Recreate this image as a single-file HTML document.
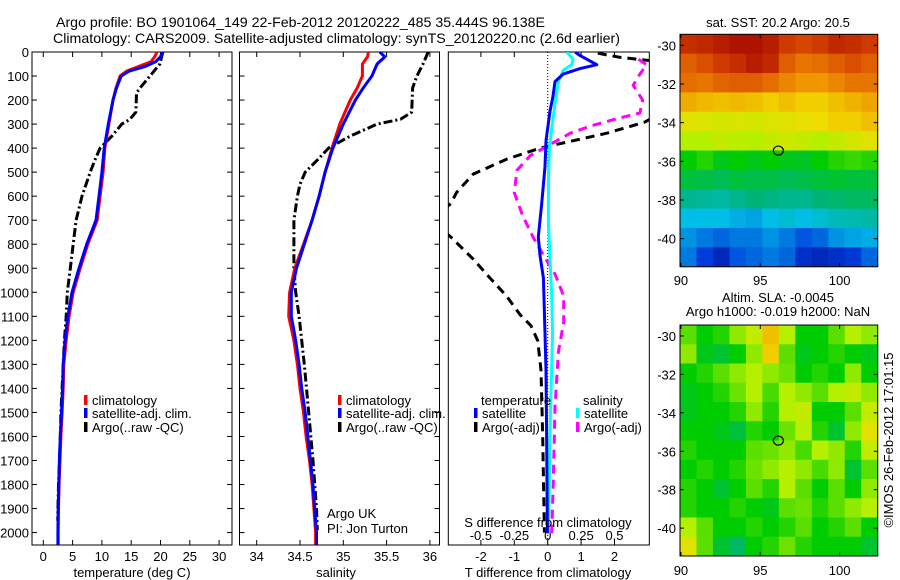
<!DOCTYPE html>
<html><head><meta charset="utf-8"><style>
html,body{margin:0;padding:0;background:#fff}
svg{display:block}
text{font-family:"Liberation Sans",sans-serif;fill:#000}
</style></head><body>
<svg id="fig" width="900" height="580" viewBox="0 0 900 580" xmlns="http://www.w3.org/2000/svg">
<rect width="900" height="580" fill="#fff"/>
<text x="56" y="27" font-size="14" textLength="489" lengthAdjust="spacingAndGlyphs">Argo profile: BO 1901064_149 22-Feb-2012 20120222_485 35.444S 96.138E</text>
<text x="53" y="43" font-size="14" textLength="567" lengthAdjust="spacingAndGlyphs">Climatology: CARS2009. Satellite-adjusted climatology: synTS_20120220.nc (2.6d earlier)</text>
<g id="g1"></g>
<g id="g2"></g>
<g id="g3"></g>
<g id="g4"></g>
<g id="g5"></g>
<text transform="translate(893,440) rotate(-90)" font-size="13" text-anchor="middle">©IMOS 26-Feb-2012 17:01:15</text>
</svg>
<script>
// ---- data ----
const tDepth=[0,20,40,60,80,100,150,200,300,400,500,600,700,800,900,1000,1100,1200,1300,1400,1500,1600,1700,1800,1900,2000,2050];
const tClim=[19.4,19.0,18.4,16.3,14.2,13.1,12.4,11.9,11.2,10.5,10.2,9.7,9.2,7.6,6.3,5.1,4.4,3.9,3.5,3.4,3.2,3.0,2.85,2.7,2.6,2.55,2.55];
const tSat=[20.3,20.0,19.2,17.4,14.6,13.3,12.5,11.9,11.1,10.4,10.0,9.5,9.0,7.4,6.1,4.9,4.2,3.7,3.4,3.3,3.1,2.9,2.75,2.65,2.55,2.5,2.5];
const aTDepth=[0,50,100,150,170,250,280,300,350,400,450,500,600,700,800,900,1000,1100,1200,1300,1400,1500,1600,1700,1800,1900,1950];
const aTemp=[20.4,19.9,18.2,16.5,15.9,15.8,14.8,13.4,11.7,9.7,8.8,8.0,6.6,5.6,5.1,4.6,4.1,3.9,3.6,3.4,3.2,3.0,2.9,2.75,2.6,2.5,2.45];
const sDepth=[0,20,50,100,150,200,300,400,500,600,700,800,900,1000,1100,1200,1300,1400,1500,1600,1700,1800,1900,2000,2050];
const sClim=[35.29,35.28,35.22,35.22,35.16,35.08,34.96,34.87,34.79,34.72,34.64,34.54,34.44,34.38,34.37,34.43,34.47,34.5,34.54,34.57,34.61,34.64,34.66,34.68,34.68];
const sSat=[35.42,35.48,35.39,35.33,35.23,35.14,35.0,34.88,34.79,34.72,34.64,34.55,34.46,34.4,34.4,34.45,34.49,34.52,34.56,34.59,34.62,34.65,34.67,34.69,34.69];
const aSDepth=[0,50,100,150,250,280,300,350,400,450,500,550,600,700,800,900,1000,1100,1200,1300,1500,1700,1900,1990];
const aSal=[35.98,35.92,35.85,35.8,35.79,35.66,35.39,35.08,34.83,34.7,34.56,34.5,34.47,34.43,34.43,34.43,34.45,34.49,34.52,34.55,34.6,34.65,34.69,34.7];
const dTDepth=[0,15,53,69,92,123,184,246,369,477,631,770,847,940,1170,1324,1632,2003];
const dTSat=[0.82,0.97,1.47,0.97,0.46,0.22,0.16,0.07,-0.05,-0.08,-0.18,-0.28,-0.23,-0.13,-0.08,-0.05,-0.03,-0.01];
const dTADepth=[5,22,38,100,200,292,338,369,400,446,508,585,631,700,770,862,940,1016,1093,1139,1201,1324,1600,2000];
const dTArgo=[1.5,2.16,3.2,4.0,4.1,2.9,1.77,0.77,-0.23,-1.23,-2.23,-2.73,-2.9,-3.5,-2.9,-2.23,-1.73,-1.23,-0.83,-0.5,-0.3,-0.2,-0.15,-0.1];
const dSDepth=[0,30,53,76,123,215,292,400,554,708,862,1016,1170,1478,1786,2003];
const dSSat=[0.142,0.19,0.18,0.117,0.08,0.055,0.037,0.012,0.005,0.005,0.017,0.03,0.037,0.022,0.012,0.005];
const dSADepth=[30,53,92,138,200,254,277,308,338,385,431,492,585,677,770,847,924,1016,1124,1248,1478,1786,2003];
const dSArgo=[0.68,0.74,0.69,0.64,0.71,0.69,0.52,0.32,0.17,0.017,-0.13,-0.23,-0.25,-0.19,-0.11,-0.03,0.055,0.12,0.12,0.08,0.055,0.042,0.03];
const sstGrid=[
[0.92,0.93,0.95,0.97,0.97,0.95,0.9,0.88,0.9,0.93,0.92,0.9],
[0.85,0.87,0.9,0.92,0.95,0.93,0.85,0.82,0.83,0.85,0.87,0.85],
[0.83,0.82,0.84,0.85,0.85,0.83,0.8,0.78,0.78,0.8,0.82,0.82],
[0.75,0.73,0.72,0.73,0.72,0.7,0.72,0.7,0.7,0.72,0.74,0.76],
[0.66,0.65,0.64,0.65,0.64,0.65,0.66,0.67,0.68,0.7,0.7,0.72],
[0.6,0.6,0.62,0.61,0.6,0.62,0.63,0.62,0.6,0.62,0.64,0.66],
[0.5,0.52,0.48,0.5,0.48,0.5,0.48,0.47,0.5,0.52,0.53,0.52],
[0.45,0.44,0.43,0.45,0.44,0.44,0.43,0.44,0.45,0.46,0.45,0.45],
[0.38,0.37,0.36,0.38,0.4,0.39,0.38,0.38,0.4,0.41,0.42,0.42],
[0.3,0.3,0.3,0.28,0.27,0.3,0.32,0.3,0.32,0.34,0.35,0.36],
[0.25,0.22,0.2,0.22,0.22,0.25,0.22,0.18,0.2,0.25,0.27,0.28],
[0.22,0.15,0.1,0.18,0.2,0.22,0.2,0.12,0.1,0.12,0.14,0.2]];
const slaGrid=[
[0.55,0.5,0.52,0.58,0.62,0.72,0.6,0.5,0.5,0.55,0.6,0.58],
[0.58,0.48,0.46,0.5,0.58,0.7,0.55,0.48,0.5,0.52,0.5,0.48],
[0.5,0.52,0.55,0.58,0.6,0.58,0.56,0.5,0.52,0.5,0.58,0.5],
[0.48,0.5,0.52,0.56,0.6,0.54,0.6,0.58,0.55,0.6,0.62,0.58],
[0.48,0.5,0.5,0.52,0.58,0.52,0.6,0.62,0.5,0.5,0.55,0.62],
[0.5,0.5,0.48,0.45,0.52,0.5,0.56,0.6,0.52,0.46,0.58,0.66],
[0.52,0.5,0.5,0.5,0.55,0.56,0.58,0.54,0.6,0.58,0.52,0.62],
[0.5,0.52,0.5,0.52,0.56,0.58,0.6,0.58,0.54,0.58,0.46,0.55],
[0.52,0.5,0.46,0.5,0.55,0.52,0.6,0.55,0.5,0.55,0.5,0.58],
[0.52,0.5,0.5,0.52,0.5,0.48,0.55,0.56,0.52,0.55,0.58,0.6],
[0.6,0.55,0.5,0.5,0.52,0.5,0.52,0.55,0.5,0.52,0.55,0.5],
[0.66,0.55,0.46,0.42,0.5,0.52,0.56,0.52,0.5,0.5,0.5,0.46]];
const depthTicks=[0,100,200,300,400,500,600,700,800,900,1000,1100,1200,1300,1400,1500,1600,1700,1800,1900,2000];
const tempTicks=[0,5,10,15,20,25,30];
const salTicks=[34,34.5,35,35.5,36];
const dTTicks=[-2,-1,0,1,2];
const dSTicks=[-0.5,-0.25,0,0.25,0.5];
const dSTickLabels=["-0.5","-0.25","0","0.25","0.5"];
const latTicks=[-30,-32,-34,-36,-38,-40];
const lonTicks=[90,95,100];
const argoLon=96.138, argoLat=-35.444;

// ---- helpers ----
const NS="http://www.w3.org/2000/svg";
function mk(parent,tag,attrs,txt){const e=document.createElementNS(NS,tag);for(const k in attrs)e.setAttribute(k,attrs[k]);if(txt!==undefined)e.textContent=txt;parent.appendChild(e);return e;}
const PT=52,PB=545;
const yD=d=>PT+d*0.2403;
function frame(g,x0,x1,y0,y1){const r=mk(g,'rect',{x:x0,y:y0,width:x1-x0,height:y1-y0,fill:'none',stroke:'#000','stroke-width':1});}
function line(g,xs,ys,fx,fy,color,w,dash,name,clip){
  const pts=xs.map((v,i)=>fx(v).toFixed(1)+','+fy(ys[i]).toFixed(1)).join(' ');
  const a={points:pts,fill:'none',stroke:color,'stroke-width':w,'stroke-linejoin':'round'};
  if(dash)a['stroke-dasharray']=dash; if(clip)a['clip-path']=clip;
  const p=mk(g,'polyline',a);
  
  
}
function depthAxis(g,x0,x1,labels){
  depthTicks.forEach(d=>{const y=yD(d);
    mk(g,'line',{x1:x0,y1:y,x2:x0+5,y2:y,stroke:'#000'});
    mk(g,'line',{x1:x1,y1:y,x2:x1-5,y2:y,stroke:'#000'});
    if(labels){const t=mk(g,'text',{x:x0-3,y:y+5,'font-size':13,'text-anchor':'end'},String(d));
      }
  });
}
function xAxis(g,ticks,labs,fx,labY,top,bot,tickTop){
  ticks.forEach((v,i)=>{const x=fx(v);
    mk(g,'line',{x1:x,y1:bot,x2:x,y2:bot-5,stroke:'#000'});
    if(tickTop!==false)mk(g,'line',{x1:x,y1:top,x2:x,y2:top+5,stroke:'#000'});
    const t=mk(g,'text',{x:x,y:labY,'font-size':13,'text-anchor':'middle'},labs[i]);
    
  });
}
function legendItem(g,x,y,color,label,name){
  const r=mk(g,'rect',{x:x,y:y-10,width:3.5,height:10,fill:color});
  
  const t=mk(g,'text',{x:x+8,y:y,'font-size':13},label);
  
}
function cmap(v){
  const st=[[0,0,0,120],[0.15,0,60,220],[0.3,0,190,230],[0.4,0,180,120],[0.5,0,205,0],[0.6,180,240,0],[0.68,240,220,0],[0.78,240,150,0],[0.88,215,70,0],[1,160,0,0]];
  v=Math.max(0,Math.min(1,v));
  for(let i=1;i<st.length;i++){if(v<=st[i][0]){const a=st[i-1],b=st[i],f=(v-a[0])/(b[0]-a[0]);
    return 'rgb('+[1,2,3].map(k=>Math.round(a[k]+(b[k]-a[k])*f)).join(',')+')';}}
  return 'rgb(160,0,0)';
}

// ---- panel 1 temperature ----
const g1=document.getElementById('g1');
const xT=v=>43.3+v*5.86;
frame(g1,32,232,PT,PB); depthAxis(g1,32,232,true);
xAxis(g1,tempTicks,tempTicks.map(String),xT,561,PT,PB);
line(g1,aTemp,aTDepth,xT,yD,'#000',3,'9,3,2,3','argo-temperature-line');
line(g1,tClim,tDepth,xT,yD,'#f00',3,null,'climatology-temperature-line');
line(g1,tSat,tDepth,xT,yD,'#00f',3,null,'satellite-temperature-line');
legendItem(g1,84,405,'#f00','climatology','legend-climatology');
legendItem(g1,84,418,'#00f','satellite-adj. clim.','legend-satellite');
legendItem(g1,84,432,'#000','Argo(..raw -QC)','legend-argo');
mk(g1,'text',{x:132,y:577,'font-size':13,'text-anchor':'middle',},'temperature (deg C)');

// ---- panel 2 salinity ----
const g2=document.getElementById('g2');
const xS=v=>256.7+(v-34)*86.6;
frame(g2,239.5,439.5,PT,PB); depthAxis(g2,239.5,439.5,false);
xAxis(g2,salTicks,["34","34.5","35","35.5","36"],xS,561,PT,PB);
line(g2,aSal,aSDepth,xS,yD,'#000',3,'9,3,2,3','argo-salinity-line');
line(g2,sClim,sDepth,xS,yD,'#f00',3,null,'climatology-salinity-line');
line(g2,sSat,sDepth,xS,yD,'#00f',3,null,'satellite-salinity-line');
legendItem(g2,338,405,'#f00','climatology','legend-climatology');
legendItem(g2,338,418,'#00f','satellite-adj. clim.','legend-satellite');
legendItem(g2,338,432,'#000','Argo(..raw -QC)','legend-argo');
mk(g2,'text',{x:327,y:518,'font-size':13,},'Argo UK');
mk(g2,'text',{x:327,y:533,'font-size':13,},'PI: Jon Turton');
mk(g2,'text',{x:336,y:577,'font-size':13,'text-anchor':'middle',},'salinity');

// ---- panel 3 differences ----
const g3=document.getElementById('g3');
const X0=448.3,X1=649.3;
const xDT=v=>547.7+v*33.4, xDS=v=>547.7+v*133.6;
const defs=mk(document.getElementById('fig'),'defs',{});
const cp=mk(defs,'clipPath',{id:'c3'}); mk(cp,'rect',{x:X0,y:PT,width:X1-X0,height:PB-PT});
frame(g3,X0,X1,PT,PB);
[-2,-1,1,2].forEach(v=>{mk(g3,'line',{x1:xDT(v),y1:PT,x2:xDT(v),y2:PT+5,stroke:'#000'});});
mk(g3,'line',{x1:547.7,y1:PT,x2:547.7,y2:PB,stroke:'#000','stroke-width':1,'stroke-dasharray':'1,2',});
xAxis(g3,dTTicks,dTTicks.map(String),xDT,561,PT,PB,false);
dSTicks.forEach((v,i)=>{const t=mk(g3,'text',{x:xDS(v),y:540,'font-size':13,'text-anchor':'middle'},dSTickLabels[i]);
  });
line(g3,dTArgo,dTADepth,xDT,yD,'#000',3,'9,6','argo-t-diff-line','url(#c3)');
line(g3,dSArgo,dSADepth,xDS,yD,'#f0f',3,'9,6','argo-s-diff-line','url(#c3)');
line(g3,dSSat,dSDepth,xDS,yD,'#0ff',3,null,'satellite-s-diff-line','url(#c3)');
line(g3,dTSat,dTDepth,xDT,yD,'#00f',3,null,'satellite-t-diff-line','url(#c3)');
mk(g3,'text',{x:481,y:405,'font-size':13,},'temperature');
legendItem(g3,474,418,'#00f','satellite','legend-t-satellite');
legendItem(g3,474,432,'#000','Argo(-adj)','legend-t-argo');
mk(g3,'text',{x:583,y:405,'font-size':13,},'salinity');
legendItem(g3,576,418,'#0ff','satellite','legend-s-satellite');
legendItem(g3,576,432,'#f0f','Argo(-adj)','legend-s-argo');
mk(g3,'text',{x:548,y:527,'font-size':13,'text-anchor':'middle',},'S difference from climatology');
mk(g3,'text',{x:548,y:577,'font-size':13,'text-anchor':'middle',},'T difference from climatology');

// ---- maps ----
function drawMap(g,grid,top,bot,title1,title2,labY){
  const L=680,R=877.7,lonL=89.94,lonR=102.4;
  const latT=-29.43, latB=-41.45;
  const fx=lon=>L+(lon-lonL)/(lonR-lonL)*(R-L);
  const fy=lat=>top+(latT-lat)/(latT-latB)*(bot-top);
  const rows=grid.length, cols=grid[0].length;
  const cw=(R-L)/cols, ch=(bot-top)/rows;
  grid.forEach((row,i)=>row.forEach((v,j)=>{
    const r=mk(g,'rect',{x:(L+j*cw).toFixed(2),y:(top+i*ch).toFixed(2),width:(cw+0.5).toFixed(2),height:(ch+0.5).toFixed(2),fill:cmap(v)});
    
    
  }));
  frame(g,L,R,top,bot);
  latTicks.forEach(la=>{const y=fy(la);
    mk(g,'line',{x1:L,y1:y,x2:L+4,y2:y,stroke:'#000'});mk(g,'line',{x1:R,y1:y,x2:R-4,y2:y,stroke:'#000'});
    const t=mk(g,'text',{x:L-4,y:y+5,'font-size':13,'text-anchor':'end'},String(la));
    });
  lonTicks.forEach(lo=>{const x=fx(lo);
    mk(g,'line',{x1:x,y1:bot,x2:x,y2:bot-4,stroke:'#000'});mk(g,'line',{x1:x,y1:top,x2:x,y2:top+4,stroke:'#000'});
    const t=mk(g,'text',{x:x,y:labY,'font-size':13,'text-anchor':'middle'},String(lo));
    });
  const c=mk(g,'ellipse',{cx:fx(argoLon),cy:fy(argoLat),rx:5,ry:4.5,fill:'none',stroke:'#000','stroke-width':1.2});
  
  title1.forEach((tt,k)=>{const t=mk(g,'text',{x:778,y:tt[1],'font-size':13,'text-anchor':'middle'},tt[0]);
    });
}
drawMap(document.getElementById('g4'),sstGrid,34.3,266.7,[["sat. SST: 20.2 Argo: 20.5",27]],null,285);
drawMap(document.getElementById('g5'),slaGrid,325,556,[["Altim. SLA: -0.0045",302],["Argo h1000: -0.019 h2000: NaN",316]],null,575);
</script>
</body></html>
